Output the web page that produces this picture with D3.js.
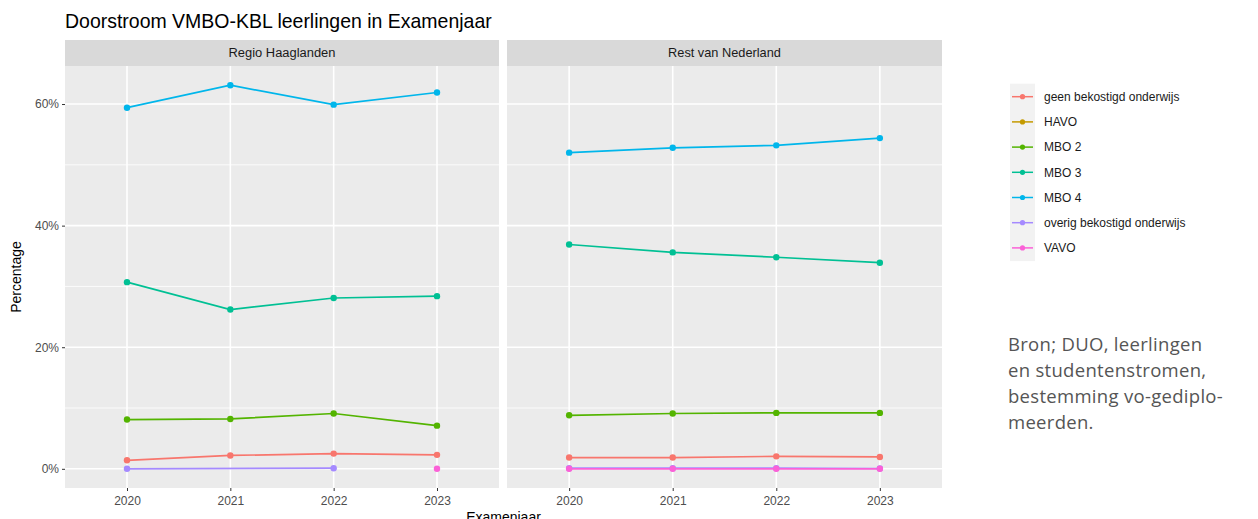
<!DOCTYPE html>
<html>
<head>
<meta charset="utf-8">
<script src="https://cdn.jsdelivr.net/npm/d3@7"></script>
<style>
  html, body { margin: 0; padding: 0; background: #ffffff; }
  svg { display: block; }
</style>
</head>
<body>
<svg id="chart" width="1258" height="519"></svg>
<script>
// ---------- DATA ----------
const years = ["2020", "2021", "2022", "2023"];
const regions = ["Regio Haaglanden", "Rest van Nederland"];
const categories = ["geen bekostigd onderwijs", "HAVO", "MBO 2", "MBO 3", "MBO 4", "overig bekostigd onderwijs", "VAVO"];
const yTicks = [0, 20, 40, 60];
const yMinorTicks = [10, 30, 50];

// values in percent, per region (Regio Haaglanden, Rest van Nederland)
const geenHaaglanden   = [1.4, 2.2, 2.5, 2.3];
const geenRest         = [1.85, 1.85, 2.05, 1.95];
const havoHaaglanden   = [null, null, null, null];
const havoRest         = [null, null, null, null];
const mbo2Haaglanden   = [8.1, 8.2, 9.1, 7.1];
const mbo2Rest         = [8.8, 9.1, 9.2, 9.2];
const mbo3Haaglanden   = [30.7, 26.2, 28.1, 28.4];
const mbo3Rest         = [36.9, 35.6, 34.8, 33.9];
const mbo4Haaglanden   = [59.4, 63.1, 59.9, 61.9];
const mbo4Rest         = [52.0, 52.8, 53.2, 54.4];
const overigHaaglanden = [0.0, null, 0.1, null];
const overigRest       = [0.1, 0.1, 0.1, 0.05];
const vavoHaaglanden   = [null, null, null, 0.0];
const vavoRest         = [0.0, 0.0, 0.0, 0.0];

const title = "Doorstroom VMBO-KBL leerlingen in Examenjaar";
const xTitle = "Examenjaar";
const yTitle = "Percentage";
const sourceLines = ["Bron; DUO, leerlingen", "en studentenstromen,", "bestemming vo-gediplo-", "meerden."];

// ---------- STRUCTURE ----------
const seriesByRegion = [
  [geenHaaglanden, havoHaaglanden, mbo2Haaglanden, mbo3Haaglanden, mbo4Haaglanden, overigHaaglanden, vavoHaaglanden],
  [geenRest, havoRest, mbo2Rest, mbo3Rest, mbo4Rest, overigRest, vavoRest]
];
const colors = ["#F8766D", "#C49A00", "#53B400", "#00C094", "#00B6EB", "#A58AFF", "#FB61D7"];
const color = d3.scaleOrdinal().domain(categories).range(colors);

const svg = d3.select("#chart");
const FONT = "'Liberation Sans', Arial, Helvetica, sans-serif";

const panelTop = 66, panelBottom = 488, stripTop = 40;
const panels = [{x0: 65, x1: 499}, {x0: 507, x1: 942}];

// y scale with ggplot-like 5% expansion
const allVals = seriesByRegion.flat(2).filter(v => v != null);
const yMin = d3.min(allVals), yMax = d3.max(allVals);
const pad = (yMax - yMin) * 0.05;
const y = d3.scaleLinear().domain([yMin - pad, yMax + pad]).range([panelBottom, panelTop]);

function fitFont(textSel, target, start) {
  let fs = start;
  textSel.attr("font-size", fs);
  const w = textSel.node().getComputedTextLength();
  if (w > 0) { fs = fs * target / w; textSel.attr("font-size", fs); }
  return fs;
}

// title
const t = svg.append("text").attr("x", 65).attr("y", 28).attr("fill", "#000")
  .attr("font-family", FONT).text(title);
fitFont(t, 427, 17);

panels.forEach((p, pi) => {
  const x = d3.scalePoint().domain(years).range([p.x0, p.x1]).padding(0.6);
  const g = svg.append("g");

  // panel background
  g.append("rect").attr("x", p.x0).attr("y", panelTop).attr("width", p.x1 - p.x0)
    .attr("height", panelBottom - panelTop).attr("fill", "#EBEBEB");
  // strip
  g.append("rect").attr("x", p.x0).attr("y", stripTop).attr("width", p.x1 - p.x0)
    .attr("height", panelTop - stripTop).attr("fill", "#D9D9D9");
  const st = g.append("text").attr("x", (p.x0 + p.x1) / 2).attr("y", 57)
    .attr("text-anchor", "middle").attr("fill", "#1A1A1A").attr("font-family", FONT)
    .text(regions[pi]);
  fitFont(st, pi === 0 ? 107 : 113, 12);

  // minor grid
  g.selectAll(".minor").data(yMinorTicks).join("line")
    .attr("x1", p.x0).attr("x2", p.x1)
    .attr("y1", d => y(d)).attr("y2", d => y(d))
    .attr("stroke", "#ffffff").attr("stroke-width", 0.8);
  // major grid
  g.selectAll(".majorY").data(yTicks).join("line")
    .attr("x1", p.x0).attr("x2", p.x1)
    .attr("y1", d => y(d)).attr("y2", d => y(d))
    .attr("stroke", "#ffffff").attr("stroke-width", 1.6);
  g.selectAll(".majorX").data(years).join("line")
    .attr("x1", d => x(d)).attr("x2", d => x(d))
    .attr("y1", panelTop).attr("y2", panelBottom)
    .attr("stroke", "#ffffff").attr("stroke-width", 1.6);

  // x axis
  const xAxis = d3.axisBottom(x).tickSize(3).tickPadding(4);
  const xg = svg.append("g").attr("transform", `translate(0,${panelBottom})`).call(xAxis);
  xg.select(".domain").remove();
  xg.selectAll(".tick line").attr("stroke", "#333333");
  xg.selectAll(".tick text").attr("fill", "#4D4D4D").attr("font-size", 12)
    .attr("font-family", FONT).attr("dy", "0.85em");

  // y axis only on first panel
  if (pi === 0) {
    const yAxis = d3.axisLeft(y).tickValues(yTicks).tickFormat(d => d + "%").tickSize(3).tickPadding(3);
    const yg = svg.append("g").attr("transform", `translate(${p.x0},0)`).call(yAxis);
    yg.select(".domain").remove();
    yg.selectAll(".tick line").attr("stroke", "#333333");
    yg.selectAll(".tick text").attr("fill", "#4D4D4D").attr("font-size", 12).attr("font-family", FONT);
  }

  // lines then points
  const line = d3.line().x(d => x(d.year)).y(d => y(d.value));
  const data = categories.map((c, ci) => ({
    cat: c,
    pts: years.map((yr, i) => ({year: yr, value: seriesByRegion[pi][ci][i]})).filter(d => d.value != null)
  }));
  g.selectAll(".series").data(data).join("path")
    .attr("d", d => d.pts.length > 1 ? line(d.pts) : null)
    .attr("fill", "none").attr("stroke", d => color(d.cat)).attr("stroke-width", 1.7);
  data.forEach(s => {
    g.selectAll(null).data(s.pts).join("circle")
      .attr("cx", d => x(d.year)).attr("cy", d => y(d.value)).attr("r", 3.2)
      .attr("fill", color(s.cat));
  });
});

// axis titles
svg.append("text").attr("x", (panels[0].x0 + panels[1].x1) / 2).attr("y", 522)
  .attr("text-anchor", "middle").attr("font-size", 14).attr("font-family", FONT).attr("fill", "#000")
  .text(xTitle);
svg.append("text").attr("transform", `translate(21,${(panelTop + panelBottom) / 2}) rotate(-90)`)
  .attr("text-anchor", "middle").attr("font-size", 14).attr("font-family", FONT).attr("fill", "#000")
  .text(yTitle);

// legend
const legY0 = 96.7, legStep = 25.2;
const leg = svg.append("g");
leg.append("rect").attr("x", 1010).attr("y", legY0 - 13).attr("width", 25)
  .attr("height", legStep * categories.length + 1).attr("fill", "#F2F2F2");
categories.forEach((c, i) => {
  const cy = legY0 + i * legStep;
  leg.append("line").attr("x1", 1012).attr("x2", 1033).attr("y1", cy).attr("y2", cy)
    .attr("stroke", color(c)).attr("stroke-width", 1.5);
  leg.append("circle").attr("cx", 1022.5).attr("cy", cy).attr("r", 2.6).attr("fill", color(c));
  leg.append("text").attr("x", 1044).attr("y", cy).attr("dy", "0.35em")
    .attr("font-size", 12).attr("font-family", FONT).attr("fill", "#1A1A1A").text(c);
});

// source note
const srcY = [351, 377, 403, 429];
sourceLines.forEach((s, i) => svg.append("text").attr("x", 1008).attr("y", srcY[i])
  .attr("font-family", "'Open Sans', Lato, sans-serif").attr("fill", "#555555")
  .attr("font-size", 18.5).attr("letter-spacing", 0.3).text(s));
</script>
</body>
</html>
